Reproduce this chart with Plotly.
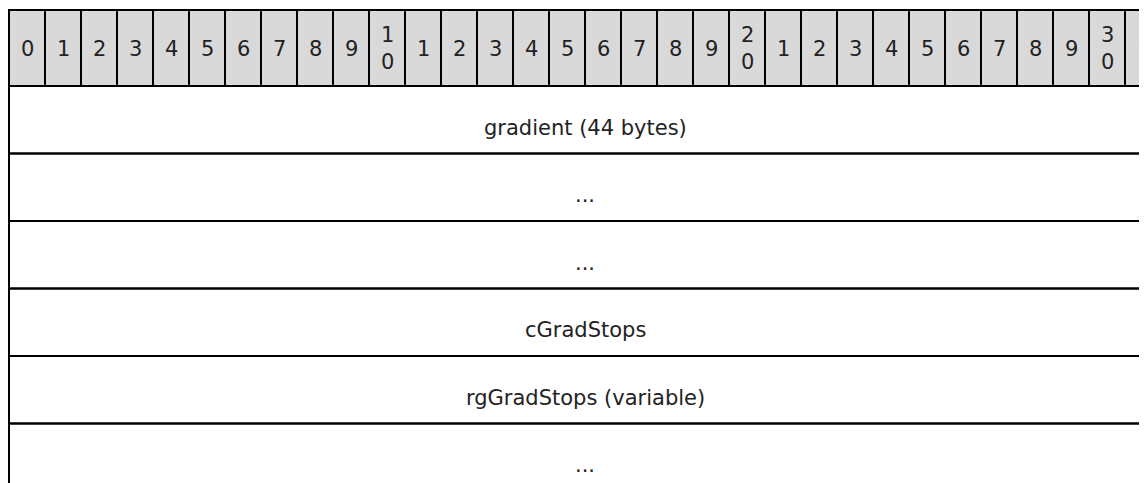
import plotly.graph_objects as go

# ---- data ----
bit_labels = ["0", "1", "2", "3", "4", "5", "6", "7", "8", "9",
              "10", "1", "2", "3", "4", "5", "6", "7", "8", "9",
              "20", "1", "2", "3", "4", "5", "6", "7", "8", "9",
              "30", "1"]
field_names = ["gradient (44 bytes)", "...", "...", "cGradStops",
               "rgGradStops (variable)", "..."]
field_start_bits = [0, 0, 0, 0, 0, 0]
field_bit_widths = [32, 32, 32, 32, 32, 32]

# ---- layout constants (screen pixels) ----
W, H = 1147, 483
PAGE_OFF = 8      # default body margin of the html page
LEFT = 9          # left border px
COLW = 36         # px per bit
HDR_TOP, HDR_BOT = 10, 86
ROW_H = 67.5
FONT = dict(family="DejaVu Sans, Verdana, sans-serif", size=21, color="#222222")
LINE = dict(color="black", width=2)
HDR_FILL = "#d9d9d9"

x_min = (PAGE_OFF - LEFT) / COLW
x_max = (W - LEFT) / COLW

fig = go.Figure()
shapes = []
annotations = []

# header cells
for i, lab in enumerate(bit_labels):
    shapes.append(dict(type="rect", xref="x", yref="y",
                       x0=i, x1=i + 1, y0=HDR_TOP, y1=HDR_BOT,
                       fillcolor=HDR_FILL, line=LINE, layer="below"))
    txt = "<br>".join(list(lab)) if len(lab) > 1 else lab
    annotations.append(dict(x=i + 0.5, y=(HDR_TOP + HDR_BOT) / 2 + 0.5, xref="x", yref="y",
                            text=txt, showarrow=False, font=FONT,
                            xanchor="center", yanchor="middle"))

# field rows
for k, (name, sb, bw) in enumerate(zip(field_names, field_start_bits, field_bit_widths)):
    top = HDR_BOT + k * ROW_H
    bot = top + ROW_H
    shapes.append(dict(type="rect", xref="x", yref="y",
                       x0=sb, x1=sb + bw, y0=top, y1=bot,
                       fillcolor="rgba(0,0,0,0)", line=LINE, layer="above"))
    annotations.append(dict(x=sb + bw / 2, y=top + 41.6, xref="x", yref="y",
                            text=name, showarrow=False, font=FONT,
                            xanchor="center", yanchor="middle"))

fig.update_layout(
    width=W - PAGE_OFF, height=H - PAGE_OFF,
    margin=dict(l=0, r=0, t=0, b=0),
    paper_bgcolor="white", plot_bgcolor="white",
    xaxis=dict(range=[x_min, x_max], visible=False, fixedrange=True),
    yaxis=dict(range=[H, PAGE_OFF], visible=False, fixedrange=True),
    shapes=shapes, annotations=annotations,
    showlegend=False,
)

fig.write_html("out.html")
